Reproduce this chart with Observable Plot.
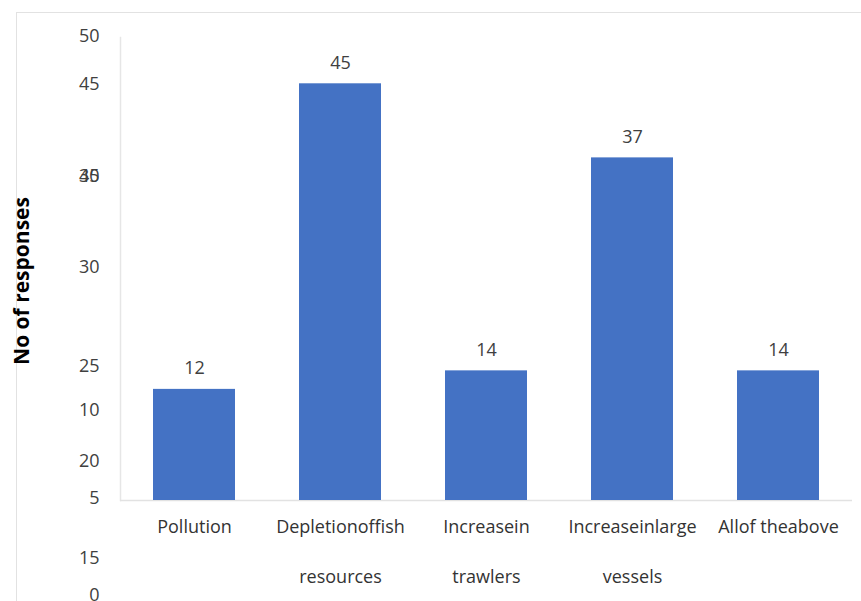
<!DOCTYPE html>
<html>
<head>
<meta charset="utf-8">
<script src="https://cdn.jsdelivr.net/npm/d3@7"></script>
<script src="https://cdn.jsdelivr.net/npm/@observablehq/plot@0.6"></script>
<style>
  html, body { margin: 0; padding: 0; background: #fff; }
  #chart { position: relative; width: 861px; height: 601px; overflow: hidden; }
  #border { position: absolute; left: 16px; top: 12px; right: -4px; bottom: -4px;
            border-left: 1.5px solid #e2e2e2; border-top: 1.5px solid #e2e2e2; }
  #chart svg { position: absolute; left: 0; top: 0; }
</style>
</head>
<body>
<div id="chart"><div id="border"></div></div>
<script>
// Survey answers: perceived causes, number of responses each
const categories = [
  "Pollution",
  "Depletionoffish\nresources",
  "Increasein\ntrawlers",
  "Increaseinlarge\nvessels",
  "Allof theabove"
];
const responses = [12, 45, 14, 37, 14];

// Axis labels as printed, with the value each one sits at on the scale
const tickLabels = ["50", "45", "40", "35", "30", "25", "10", "20", "5", "15", "0"];
const tickValues = [50.1, 45, 35, 35, 25.2, 14.5, 9.8, 4.2, 0.2, -6.2, -10.2];

const yTitle = "No of responses";

const data = categories.map((c, i) => ({category: c, value: responses[i]}));
const ticks = tickLabels.map((t, i) => ({label: t, value: tickValues[i]}));

const font = "'Open Sans', 'Liberation Sans', sans-serif";

const chart = Plot.plot({
  width: 861,
  height: 601,
  marginLeft: 120,
  marginRight: 9,
  marginTop: 37,
  marginBottom: 101,
  style: {background: "transparent", fontFamily: font, fontSize: "18px", color: "#404040"},
  x: {domain: categories, paddingInner: 0.44, paddingOuter: 0.22, axis: null},
  y: {domain: [0, 50], axis: null},
  marks: [
    Plot.frame({anchor: "left", stroke: "#e6e6e6", strokeWidth: 1.5}),
    Plot.ruleY([0], {stroke: "#e2e2e2", strokeWidth: 1.5}),
    Plot.barY(data, {x: "category", y: "value", fill: "#4472C4"}),
    Plot.text(data, {x: "category", y: "value", text: d => String(d.value),
                     dy: -21, fill: "#404040", fontSize: 18}),
    Plot.text(ticks, {y: "value", text: "label", frameAnchor: "left",
                      textAnchor: "end", dx: -21, fill: "#404040", fontSize: 18}),
    Plot.text(data, {x: "category", text: "category", frameAnchor: "bottom",
                     lineAnchor: "top", dy: -3, lineHeight: 2.78,
                     fill: "#333", fontSize: 18}),
    Plot.text([yTitle], {frameAnchor: "left", textAnchor: "middle", rotate: -90,
                         dx: -98, dy: 12, fontWeight: "bold", fontSize: 21, fill: "#000"})
  ]
});
document.getElementById("chart").appendChild(chart);
</script>
</body>
</html>
